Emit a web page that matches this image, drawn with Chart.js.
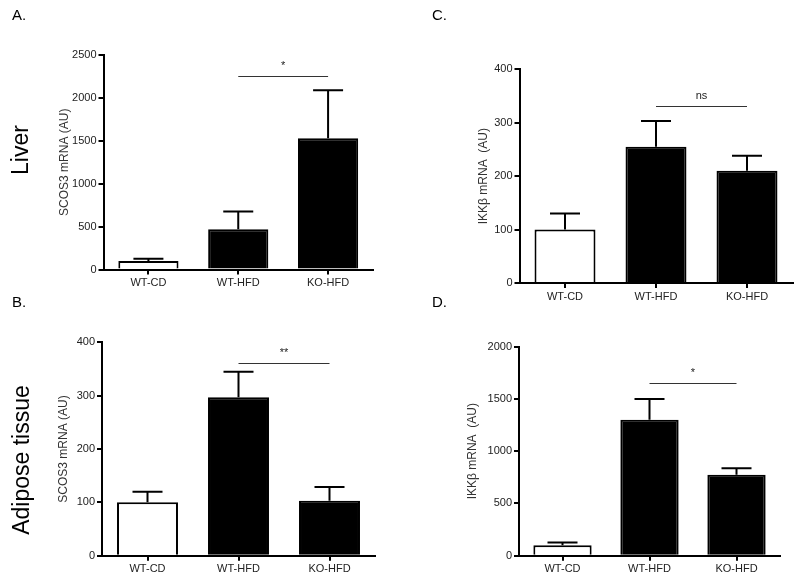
<!DOCTYPE html>
<html><head><meta charset="utf-8">
<script src="https://cdn.jsdelivr.net/npm/chart.js@4"></script>
<style>
html,body{margin:0;padding:0;background:#fff;width:800px;height:583px;overflow:hidden}
canvas{position:absolute;left:0;top:0}
</style></head>
<body>
<canvas id="cA" width="800" height="583"></canvas>
<canvas id="cB" width="800" height="583"></canvas>
<canvas id="cC" width="800" height="583"></canvas>
<canvas id="cD" width="800" height="583"></canvas>
<script>
// ---- data ----
const categories = ['WT-CD', 'WT-HFD', 'KO-HFD'];
const liverSocs3 = [100, 470, 1530];
const liverSocs3Sem = [25, 205, 560];
const liverIkkb = [100, 255, 210];
const liverIkkbSem = [30, 48, 28];
const adiposeSocs3 = [100, 297, 103];
const adiposeSocs3Sem = [20, 48, 26];
const adiposeIkkb = [100, 1300, 775];
const adiposeIkkbSem = [27, 200, 63];
const sigLabels = ['*', 'ns', '**', '*'];
const sigLevels = [2255, 332, 362, 1656];
const yMaxes = [2500, 400, 400, 2000];
const ySteps = [500, 100, 100, 500];
const yTitles = ['SCOS3 mRNA (AU)', 'IKKβ mRNA  (AU)', 'SCOS3 mRNA (AU)', 'IKKβ mRNA  (AU)'];

const FONT = "'Liberation Sans', Arial, Helvetica, sans-serif";

// layout of each panel (page coordinates)
const panels = [
  {id:'cA', values: liverSocs3, sem: liverSocs3Sem, k:0, pad:{left:57.8, top:55, right:427, bottom:288.5}, yw:45.7},
  {id:'cC', values: liverIkkb, sem: liverIkkbSem, k:1, pad:{left:476.8, top:69.3, right:7.5, bottom:275}, yw:42.7},
  {id:'cB', values: adiposeSocs3, sem: adiposeSocs3Sem, k:2, pad:{left:56.8, top:342.3, right:425, bottom:2.3}, yw:45.2},
  {id:'cD', values: adiposeIkkb, sem: adiposeIkkbSem, k:3, pad:{left:465.8, top:346.7, right:20, bottom:2.3}, yw:53.2}
];

function errPlugin(sem, sigLabel, sigLevel){
  return {
    id: 'errbars',
    afterDatasetsDraw(chart){
      const ctx = chart.ctx, meta = chart.getDatasetMeta(0), y = chart.scales.y;
      const vals = chart.data.datasets[0].data;
      ctx.save();
      ctx.strokeStyle = '#000'; ctx.lineWidth = 2; ctx.lineCap = 'butt';
      meta.data.forEach((bar, i) => {
        const top = y.getPixelForValue(vals[i] + sem[i]);
        ctx.beginPath();
        ctx.moveTo(bar.x, bar.y); ctx.lineTo(bar.x, top);
        ctx.moveTo(bar.x - 15, top); ctx.lineTo(bar.x + 15, top);
        ctx.stroke();
      });
      const x1 = meta.data[1].x, x2 = meta.data[2].x;
      const sy = Math.round(y.getPixelForValue(sigLevel)) + 0.5;
      ctx.strokeStyle = '#333'; ctx.lineWidth = 1;
      ctx.beginPath(); ctx.moveTo(x1, sy); ctx.lineTo(x2, sy); ctx.stroke();
      ctx.fillStyle = '#222'; ctx.font = '11px ' + FONT;
      ctx.textAlign = 'center'; ctx.textBaseline = 'alphabetic';
      ctx.fillText(sigLabel, (x1 + x2) / 2, sy - 8);
      ctx.restore();
    }
  };
}

const labelPlugin = {
  id: 'pageLabels',
  afterDraw(chart){
    const ctx = chart.ctx;
    ctx.save();
    ctx.fillStyle = '#000';
    ctx.textBaseline = 'alphabetic'; ctx.textAlign = 'left';
    ctx.font = '15px ' + FONT;
    ctx.fillText('A.', 12, 20);
    ctx.fillText('B.', 12, 307);
    ctx.fillText('C.', 432, 20);
    ctx.fillText('D.', 432, 307);
    ctx.font = '23px ' + FONT;
    ctx.textAlign = 'center'; ctx.textBaseline = 'middle';
    ctx.translate(22, 150); ctx.rotate(-Math.PI / 2); ctx.fillText('Liver', 0, 0);
    ctx.setTransform(1,0,0,1,0,0);
    ctx.translate(23, 460); ctx.rotate(-Math.PI / 2); ctx.fillText('Adipose tissue', 0, 0);
    ctx.restore();
  }
};

panels.forEach(p => {
  const k = p.k;
  const plugins = [errPlugin(p.sem, sigLabels[k], sigLevels[k])];
  if (p.id === 'cA') plugins.push(labelPlugin);
  new Chart(document.getElementById(p.id), {
    type: 'bar',
    data: {
      labels: categories,
      datasets: [{
        data: p.values,
        backgroundColor: ['#ffffff', '#000000', '#000000'],
        borderColor: '#000',
        borderWidth: 2,
        barPercentage: 0.67,
        categoryPercentage: 1
      }]
    },
    options: {
      responsive: false,
      animation: false,
      events: [],
      layout: { padding: p.pad },
      plugins: { legend: { display: false }, tooltip: { enabled: false } },
      scales: {
        x: {
          offset: true,
          grid: { display: true, offset: false, drawOnChartArea: false, drawTicks: true, tickLength: 5, color: '#000', lineWidth: 2 },
          border: { display: true, color: '#000', width: 2 },
          ticks: { color: '#222', font: { family: FONT, size: 11 }, padding: 2, maxRotation: 0 },
          afterFit: s => { s.height = 25; }
        },
        y: {
          min: 0, max: yMaxes[k],
          grid: { display: true, drawOnChartArea: false, drawTicks: true, tickLength: 5, color: '#000', lineWidth: 2 },
          border: { display: true, color: '#000', width: 2 },
          ticks: { stepSize: ySteps[k], color: '#222', font: { family: FONT, size: 11 }, padding: 2, callback: v => String(v) },
          title: { display: true, text: yTitles[k], color: '#333', font: { family: FONT, size: 12 }, padding: 0 },
          afterFit: s => { s.width = p.yw; }
        }
      }
    },
    plugins: plugins
  });
});
</script>
</body></html>
